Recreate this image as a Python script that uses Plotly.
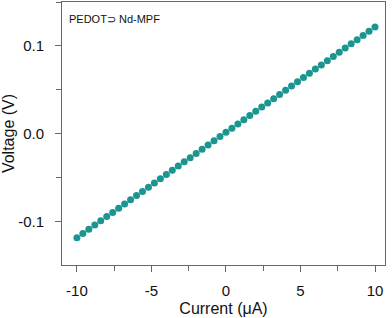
import plotly.graph_objects as go

current_uA = [-10.0, -9.6, -9.2, -8.8, -8.4, -8.0, -7.6, -7.2, -6.8, -6.4,
              -6.0, -5.6, -5.2, -4.8, -4.4, -4.0, -3.6, -3.2, -2.8, -2.4,
              -2.0, -1.6, -1.2, -0.8, -0.4, 0.0, 0.4, 0.8, 1.2, 1.6,
              2.0, 2.4, 2.8, 3.2, 3.6, 4.0, 4.4, 4.8, 5.2, 5.6,
              6.0, 6.4, 6.8, 7.2, 7.6, 8.0, 8.4, 8.8, 9.2, 9.6, 10.0]
voltage_V = [-0.1180, -0.1132, -0.1084, -0.1036, -0.0988, -0.0940, -0.0892, -0.0845, -0.0797, -0.0749,
             -0.0701, -0.0653, -0.0605, -0.0557, -0.0509, -0.0461, -0.0413, -0.0365, -0.0317, -0.0270,
             -0.0222, -0.0174, -0.0126, -0.0078, -0.0030, 0.0018, 0.0066, 0.0114, 0.0162, 0.0210,
             0.0258, 0.0306, 0.0353, 0.0401, 0.0449, 0.0497, 0.0545, 0.0593, 0.0641, 0.0689,
             0.0737, 0.0785, 0.0833, 0.0881, 0.0928, 0.0976, 0.1024, 0.1072, 0.1120, 0.1168, 0.1216]

x_ticks = [-10, -5, 0, 5, 10]
x_ticklabels = ["-10", "-5", "0", "5", "10"]
y_ticks = [-0.1, 0.0, 0.1]
y_ticklabels = ["-0.1", "0.0", "0.1"]

FONT = "Liberation Sans, Arial, sans-serif"

fig = go.Figure()
fig.add_trace(go.Scatter(
    x=current_uA, y=voltage_V, mode="markers",
    marker=dict(color="#1b958f", size=7, line=dict(width=0)),
    showlegend=False, hoverinfo="skip",
))

axis_common = dict(
    showgrid=False, zeroline=False, showline=True, linecolor="#666666", linewidth=1,
    mirror=True, ticks="outside", ticklen=6, tickcolor="#666666", tickwidth=1,
    tickfont=dict(family=FONT, size=15, color="#111111"),
    minor=dict(ticks="outside", ticklen=5, tickcolor="#666666", tickwidth=1),
)

fig.update_xaxes(
    range=[-11.0, 10.67], tickvals=x_ticks, ticktext=x_ticklabels,
    minor_dtick=2.5, minor_tick0=0, ticklabelstandoff=6,
    title=dict(text="Current (μA)", font=dict(family=FONT, size=16, color="#111111"), standoff=4),
    **axis_common,
)
fig.update_yaxes(
    range=[-0.149, 0.150], tickvals=y_ticks, ticktext=y_ticklabels,
    minor_dtick=0.05, minor_tick0=0, ticklabelstandoff=8,
    title=dict(text="Voltage (V)", font=dict(family=FONT, size=16, color="#111111"), standoff=6),
    **axis_common,
)

fig.add_annotation(
    text="PEDOT⊃ Nd-MPF", xref="paper", yref="paper", x=0.015, y=0.935,
    xanchor="left", yanchor="middle", showarrow=False,
    font=dict(family=FONT, size=11, color="#111111"),
)

fig.update_layout(
    width=392, height=318,
    margin=dict(l=62, r=7, t=2, b=53),
    paper_bgcolor="white", plot_bgcolor="white",
)

fig.write_html(
    "out.html",
    config={"displayModeBar": False},
    post_script="document.body.style.margin='0';document.body.style.overflow='hidden';",
)
